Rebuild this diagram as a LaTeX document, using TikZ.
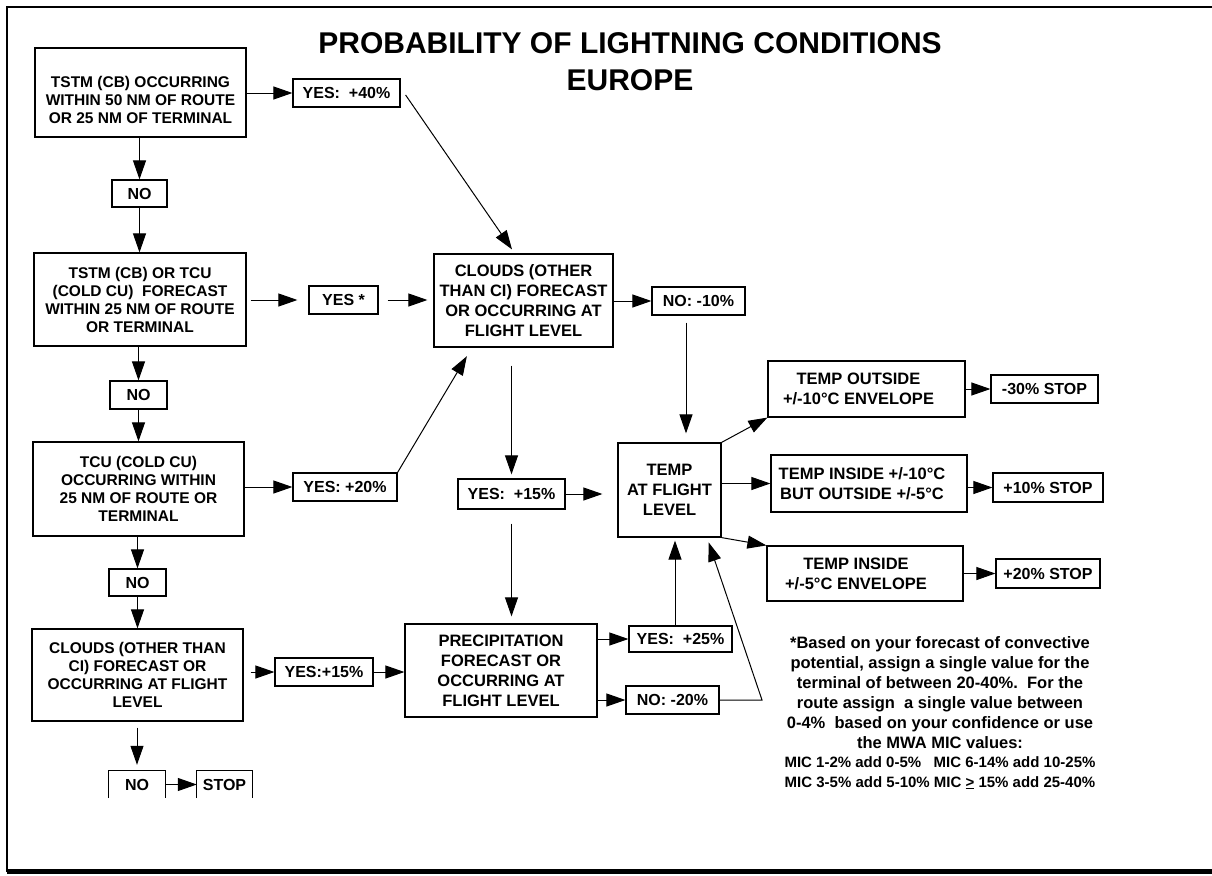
\documentclass[tikz,border=0pt]{standalone}
\usepackage{fontspec}
\setmainfont{Liberation Sans}
\usetikzlibrary{arrows.meta}
\begin{document}
\begin{tikzpicture}[x=1pt,y=-1pt,
  lbox/.style={draw, line width=1.2pt, align=center, inner sep=0pt, font=\bfseries\fontsize{15.5}{18}\selectfont},
  cbox/.style={draw, line width=1.2pt, align=center, inner sep=0pt, font=\bfseries\fontsize{16.5}{20}\selectfont},
  tag/.style={draw, line width=1.2pt, align=center, inner sep=0pt, font=\bfseries\fontsize{16}{18}\selectfont},
  opentag/.style={align=center, inner sep=0pt, font=\bfseries\fontsize{16}{18}\selectfont},
  plain/.style={align=center, inner sep=0pt},
  arr/.style={line width=1pt, -{Triangle[length=19pt,width=13pt]}}]
\useasboundingbox (0,0) rectangle (1212,875);
\fill[white] (0,0) rectangle (1212,875);
% frame
\draw[line width=2pt] (1212,7) -- (7,7) -- (7,872);
\draw[line width=5pt] (7,871.5) -- (1212,871.5);
% title
\node[plain, font=\bfseries\fontsize{30}{37}\selectfont] (title) at (630,62) {PROBABILITY OF LIGHTNING CONDITIONS\\EUROPE};
% left column
\node[lbox, minimum width=211pt, minimum height=89pt] (A) at (140.5,92.5) {};
\node[plain, font=\bfseries\fontsize{15.5}{18}\selectfont] (Atxt) at (140.5,100) {TSTM (CB) OCCURRING\\WITHIN 50 NM OF ROUTE\\OR 25 NM OF TERMINAL};
\node[tag, minimum width=107pt, minimum height=28pt] (Y40) at (346.5,93) {YES:\ \ +40\%};
\node[tag, minimum width=55pt, minimum height=27pt] (NO1) at (139.5,193.5) {NO};
\node[lbox, minimum width=212pt, minimum height=93pt] (B) at (140,299.5) {TSTM (CB) OR TCU\\(COLD CU)\ \ FORECAST\\WITHIN 25 NM OF ROUTE\\OR TERMINAL};
\node[tag, minimum width=69pt, minimum height=28pt] (YS) at (343.5,300) {YES *};
\node[tag, minimum width=57pt, minimum height=28pt] (NO2) at (138.5,395) {NO};
\node[lbox, minimum width=211pt, minimum height=94pt] (E) at (138.5,489) {TCU (COLD CU)\\OCCURRING WITHIN\\25 NM OF ROUTE OR\\TERMINAL};
\node[tag, minimum width=104pt, minimum height=28pt] (Y20) at (345,487) {YES: +20\%};
\node[tag, minimum width=57pt, minimum height=27pt] (NO3) at (137.5,582.5) {NO};
\node[lbox, minimum width=211pt, minimum height=92pt] (D) at (137.5,675) {CLOUDS (OTHER THAN\\CI) FORECAST OR\\OCCURRING AT FLIGHT\\LEVEL};
\node[tag, minimum width=98pt, minimum height=28pt] (Y15L) at (324,672) {YES:+15\%};
\node[opentag, minimum width=56pt, minimum height=27pt] (NO4) at (137,784.5) {NO};
\node[opentag, minimum width=55pt, minimum height=27pt] (STOP) at (224.5,784.5) {STOP};
\draw[line width=1.2pt] (NO4.south west) -- (NO4.north west) -- (NO4.north east) -- (NO4.south east);
\draw[line width=1.2pt] (STOP.south west) -- (STOP.north west) -- (STOP.north east) -- (STOP.south east);
% centre column
\node[cbox, minimum width=179pt, minimum height=93pt] (C) at (523.5,300.5) {CLOUDS (OTHER\\THAN CI) FORECAST\\OR OCCURRING AT\\FLIGHT LEVEL};
\node[tag, minimum width=93pt, minimum height=28pt] (NO10) at (698.5,301) {NO: -10\%};
\node[tag, minimum width=107pt, minimum height=30pt] (Y15) at (511.5,494) {YES:\ \ +15\%};
\node[cbox, minimum width=192pt, minimum height=93pt] (P) at (501,670.5) {PRECIPITATION\\FORECAST OR\\OCCURRING AT\\FLIGHT LEVEL};
\node[tag, minimum width=103pt, minimum height=26pt] (Y25) at (680.5,639) {YES:\ \ +25\%};
\node[tag, minimum width=93pt, minimum height=28pt] (NO20) at (672.5,700) {NO: -20\%};
\node[cbox, minimum width=103pt, minimum height=94pt] (T) at (669.5,490) {TEMP\\AT FLIGHT\\LEVEL};
% right column
\node[cbox, minimum width=197pt, minimum height=56pt] (T1) at (866.5,389) {TEMP OUTSIDE\hspace*{16pt}\\+/-10°C ENVELOPE\hspace*{16pt}};
\node[tag, minimum width=107pt, minimum height=28pt] (S1) at (1044.5,389) {-30\% STOP};
\node[cbox, minimum width=196pt, minimum height=57pt] (T2) at (869,483.5) {TEMP INSIDE +/-10°C\hspace*{14pt}\\BUT OUTSIDE +/-5°C\hspace*{14pt}};
\node[tag, minimum width=110pt, minimum height=29pt] (S2) at (1048,487.5) {+10\% STOP};
\node[cbox, minimum width=196pt, minimum height=55pt] (T3) at (865,573.5) {TEMP INSIDE\hspace*{18pt}\\+/-5°C ENVELOPE\hspace*{18pt}};
\node[tag, minimum width=104pt, minimum height=29pt] (S3) at (1048,573.5) {+20\% STOP};
% footnote
\node[plain, anchor=north, font=\bfseries\fontsize{16.5}{20}\selectfont] (note1) at (940,636) {*Based on your forecast of convective\\potential, assign a single value for the\\terminal of between 20-40\%.\ \ For the\\route assign\ \ a single value between\\0-4\%\ \ based on your confidence or use\\the MWA MIC values:};
\node[plain, anchor=north, font=\bfseries\fontsize{15}{20}\selectfont] (note2) at (940,756) {MIC 1-2\% add 0-5\%\ \ \ MIC 6-14\% add 10-25\%\\MIC 3-5\% add 5-10\% MIC \underline{>} 15\% add 25-40\%};
% connectors, left column
\draw[arr] (A.east |- Y40.west) -- (Y40.west);
\draw[arr] (NO1.north |- A.south) -- (NO1.north);
\draw[arr] (NO1.south) -- (NO1.south |- B.north);
\draw[arr] (NO2.north |- B.south) -- (NO2.north);
\draw[arr] (NO2.south) -- (NO2.south |- E.north);
\draw[arr] (NO3.north |- E.south) -- (NO3.north);
\draw[arr] (NO3.south) -- (NO3.south |- D.north);
\draw[arr, shorten <=6pt, shorten >=6pt] (NO4.north |- D.south) -- (NO4.north);
\draw[arr] (NO4.east) -- (STOP.west);
\draw[arr, shorten <=4pt, shorten >=11pt] (B.east |- YS.west) -- (YS.west);
\draw[arr, shorten <=9pt, shorten >=6pt] (YS.east) -- (YS.east -| C.west);
\draw[arr] (E.east |- Y20.west) -- (Y20.west);
\draw[arr, shorten >=10pt] (Y20.north east) -- ([xshift=-51.5pt]C.south);
\draw[arr] ([xshift=5pt,yshift=-2pt]Y40.east) -- ([xshift=-11.5pt,yshift=4pt]C.north);
\draw[arr, shorten <=7pt] (D.east |- Y15L.west) -- (Y15L.west);
\draw[arr] (Y15L.east) -- (Y15L.east -| P.west);
% connectors, centre
\draw[arr] (C.east |- NO10.west) -- (NO10.west);
\draw[arr, shorten <=7pt, shorten >=9pt] ([xshift=-12.5pt]NO10.south) -- ([xshift=-12.5pt]NO10.south |- T.north);
\draw[arr, shorten <=18pt, shorten >=4pt] (Y15.north |- C.south) -- (Y15.north);
\draw[arr, shorten >=15pt] (Y15.east) -- (Y15.east -| T.west);
\draw[arr, shorten <=14pt, shorten >=7pt] (Y15.south) -- (Y15.south |- P.north);
\draw[arr] (P.east |- Y25.west) -- (Y25.west);
\draw[arr] (P.east |- NO20.west) -- (NO20.west);
\draw[arr, shorten >=3pt] ([xshift=-5.5pt]Y25.north) -- ([xshift=-5.5pt]Y25.north |- T.south);
\coordinate (kink) at (762,700);
\draw[arr, shorten >=5pt] (NO20.east) -- (kink) -- ([xshift=37.5pt]T.south);
% connectors, right
\draw[arr] (T.north east) -- (T1.south west);
\draw[arr] (T.east |- T2.west) -- (T2.west);
\draw[arr] (T.south east) -- (T3.north west);
\draw[arr] (T1.east) -- (S1.west);
\draw[arr] (T2.east |- S2.west) -- (S2.west);
\draw[arr] (T3.east) -- (S3.west);
\end{tikzpicture}
\end{document}
